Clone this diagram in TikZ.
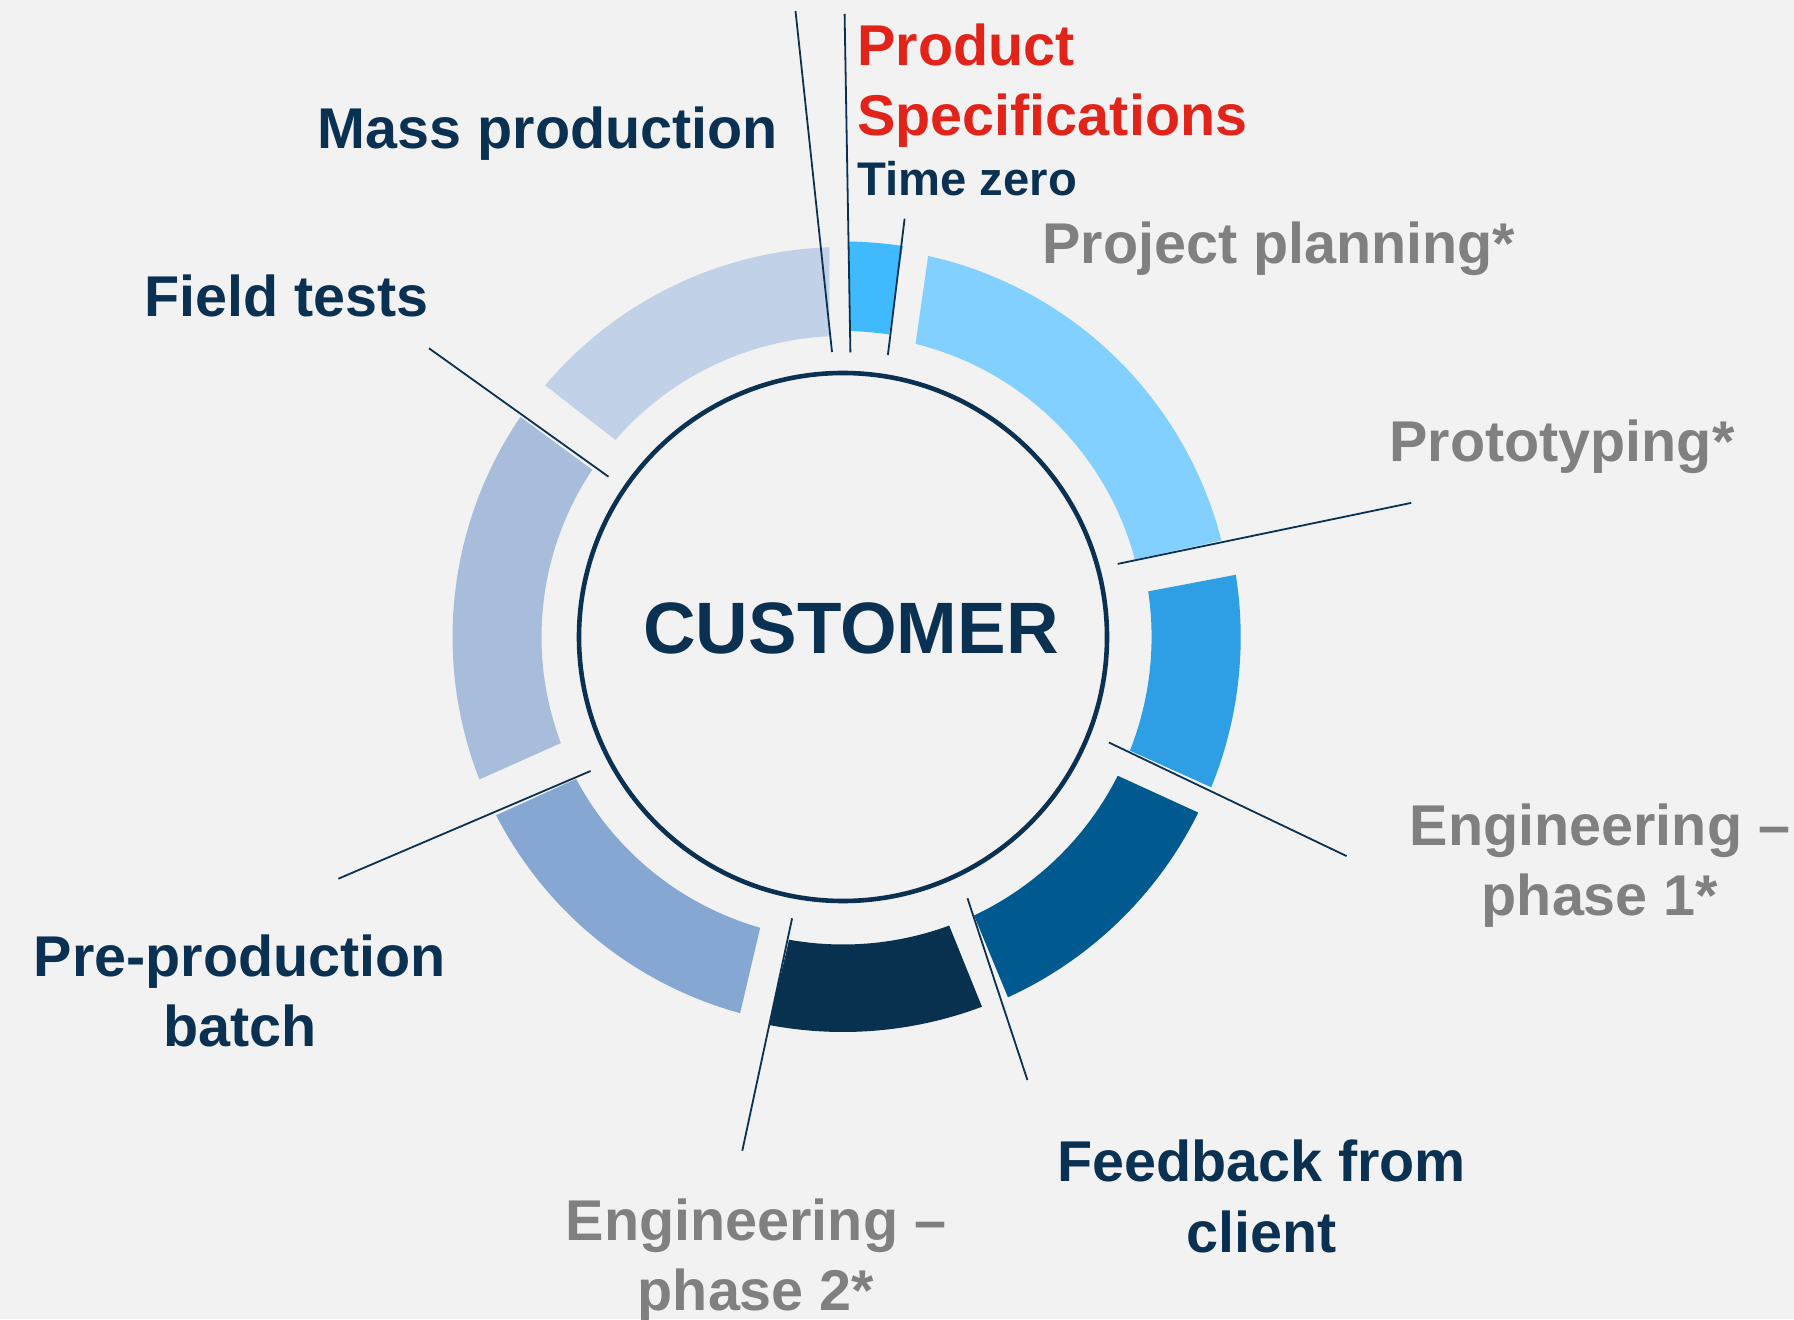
\documentclass[tikz,border=0pt]{standalone}
\usepackage{fontspec}
\setmainfont{Liberation Sans}
\definecolor{bg}{HTML}{F2F2F2}
\definecolor{navy}{HTML}{0A3152}
\definecolor{redc}{HTML}{E2231A}
\definecolor{grayc}{HTML}{808080}
\definecolor{sA}{HTML}{40BAFF}
\definecolor{sB}{HTML}{82D0FF}
\definecolor{sC}{HTML}{2E9FE4}
\definecolor{sD}{HTML}{005A8F}
\definecolor{sE}{HTML}{08314F}
\definecolor{sF}{HTML}{86A7D2}
\definecolor{sG}{HTML}{A8BDDC}
\definecolor{sH}{HTML}{C1D1E7}
\newcommand\ringseg[7]{\fill[#1] (#2:#4) arc[start angle=#2, end angle=#3, radius=#4] -- (#6:#7) arc[start angle=#6, end angle=#5, radius=#7] -- cycle;}
\begin{document}
\begin{tikzpicture}[x=0.5pt,y=0.5pt,
  big/.style={font=\bfseries\fontsize{28.75}{34}\selectfont, inner sep=0pt},
  small/.style={font=\bfseries\fontsize{23.6}{28}\selectfont, inner sep=0pt},
  navytxt/.style={big, text=navy},
  graytxt/.style={big, text=grayc},
  redtxt/.style={big, text=redc},
  leader/.style={draw=navy, line width=0.9pt}]
\useasboundingbox (0,0) rectangle (1794,1319);
\fill[bg] (0,0) rectangle (1794,1319);
% ring segments
\begin{scope}[shift={(843,682)}]
\ringseg{sA}{89.1}{81.3}{395.5}{88.8}{81.3}{306}
\ringseg{sB}{77.4}{14.3}{390.5}{76.1}{14.9}{302}
\ringseg{sC}{9.0}{-22.2}{397.7}{8.5}{-21.6}{308.6}
\ringseg{sD}{-26.3}{-65.4}{396.3}{-26.8}{-64.8}{307.8}
\ringseg{sE}{-69.4}{-100.8}{395}{-69.8}{-100.1}{307.5}
\ringseg{sF}{-105.3}{-152.8}{390}{-105.9}{-152}{302.3}
\ringseg{sG}{-158.6}{-214.3}{390.5}{-159.4}{-213.7}{301.5}
\ringseg{sH}{139.8}{92.0}{390}{139.1}{92.6}{301}
\end{scope}
% hub
\node[circle, draw=navy, line width=2.3pt, fill=bg, minimum size=264pt, inner sep=0pt] (hub) at (843,682) {};
\node[font=\bfseries\fontsize{36.4}{40}\selectfont, text=navy, inner sep=0pt, anchor=base] (cust) at (851,665) {CUSTOMER};
% leader line end points
\coordinate (m1) at (795.5,1308); \coordinate (m2) at (832,967);
\coordinate (p1) at (844.6,1305); \coordinate (p2) at (850.4,966.5);
\coordinate (t1) at (904.6,1100.3); \coordinate (t2) at (887.9,964);
\coordinate (f1) at (429,970.7); \coordinate (f2) at (608.5,842.3);
\coordinate (r1) at (1411.2,816.1); \coordinate (r2) at (1117.7,755.1);
\coordinate (e1) at (1108.9,576.5); \coordinate (e2) at (1346.6,462.9);
\coordinate (k1) at (967.5,420.7); \coordinate (k2) at (1027.4,239);
\coordinate (g1) at (792.1,400.7); \coordinate (g2) at (742.3,168.3);
\coordinate (b1) at (590.6,548); \coordinate (b2) at (338.4,440.3);
\draw[leader] (m1) -- (m2);
\draw[leader] (p1) -- (p2);
\draw[leader] (t1) -- (t2);
\draw[leader] (f1) -- (f2);
\draw[leader] (r1) -- (r2);
\draw[leader] (e1) -- (e2);
\draw[leader] (k1) -- (k2);
\draw[leader] (g1) -- (g2);
\draw[leader] (b1) -- (b2);
% labels
\node[navytxt, anchor=base] (mass) at (548,1170.7) {Mass production};
\node[navytxt, anchor=base west] (field) at (144,1002.3) {Field tests};
\node[redtxt, anchor=base west] (prod1) at (857,1253) {Product};
\node[redtxt, anchor=base west] (prod2) at (857,1183.5) {Specifications};
\node[small, text=navy, anchor=base west] (tzero) at (857,1123) {Time zero};
\node[graytxt, anchor=base west] (plan) at (1042,1055) {Project planning*};
\node[graytxt, anchor=base west] (proto) at (1389,857) {Prototyping*};
\node[graytxt, anchor=base] (eng1a) at (1600,473.6) {Engineering –};
\node[graytxt, anchor=base] (eng1b) at (1600,403.3) {phase 1*};
\node[navytxt, anchor=base] (feed1) at (1261.5,137.3) {Feedback from};
\node[navytxt, anchor=base] (feed2) at (1261.5,66.3) {client};
\node[graytxt, anchor=base] (eng2a) at (756,79) {Engineering –};
\node[graytxt, anchor=base] (eng2b) at (756,9) {phase 2*};
\node[navytxt, anchor=base] (pre1) at (240,343) {Pre-production};
\node[navytxt, anchor=base] (pre2) at (240,272.3) {batch};
\end{tikzpicture}
\end{document}
